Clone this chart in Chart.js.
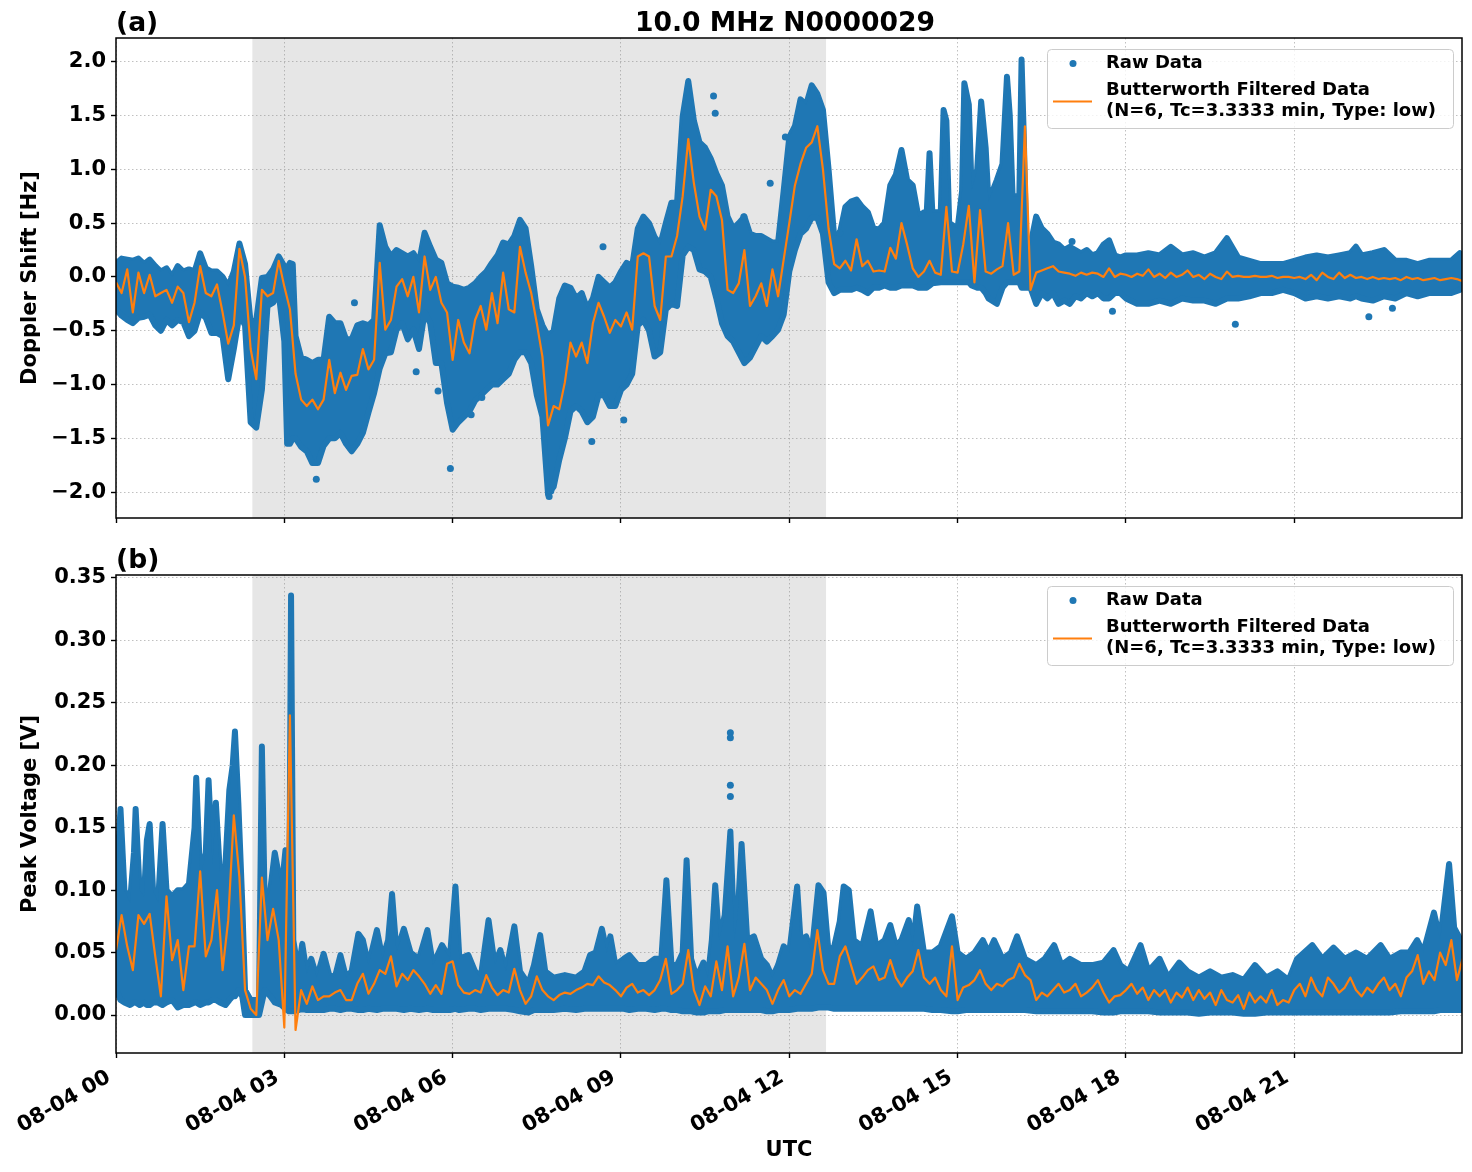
<!DOCTYPE html>
<html>
<head>
<meta charset="utf-8">
<script src="https://cdn.jsdelivr.net/npm/chart.js@4.4.1/dist/chart.umd.min.js"></script>
<style>
html,body{margin:0;padding:0;background:#fff;}
#wrap{position:relative;width:1472px;height:1172px;overflow:hidden;}
canvas{position:absolute;left:0;}
</style>
</head>
<body>
<div id="wrap">
<canvas id="cA" width="1472" height="545" style="top:0px;width:1472px;height:545px"></canvas>
<canvas id="cB" width="1472" height="627" style="top:545px;width:1472px;height:627px"></canvas>
</div>
<script>
// ---------------- text & categories ----------------
const mainTitle = '10.0 MHz N0000029';
const panelTags = ['(a)', '(b)'];
const yTitleA = 'Doppler Shift [Hz]';
const yTitleB = 'Peak Voltage [V]';
const xTitle = 'UTC';
const rawLabel = 'Raw Data';
const filtLabel = ['Butterworth Filtered Data', '(N=6, Tc=3.3333 min, Type: low)'];
const xTickHours = [0, 3, 6, 9, 12, 15, 18, 21];
const xTickLabels = ['08-04 00', '08-04 03', '08-04 06', '08-04 09', '08-04 12', '08-04 15', '08-04 18', '08-04 21'];
const shadeStart = 2.43;   // hours UTC
const shadeEnd = 12.655;   // hours UTC
const filtStep = 0.1;      // hours between filtered samples

// ---------------- panel (a): Doppler shift [Hz] ----------------
// raw data cloud: upper / lower extent of the dots at each time (hours)
const dopRawTime = [
  0,0.1,0.2,0.3,0.4,0.5,0.6,0.7,0.8,0.9,
  1.0,1.1,1.2,1.3,1.4,1.5,1.6,1.7,1.8,1.9,
  2.0,2.1,2.2,2.3,2.4,2.5,2.6,2.7,2.8,2.9,
  3.0,3.05,3.1,3.15,3.2,3.3,3.4,3.5,3.6,3.7,3.8,3.9,
  4.0,4.1,4.2,4.3,4.4,4.5,4.6,4.7,4.8,4.9,
  5.0,5.1,5.2,5.3,5.4,5.5,5.6,5.7,5.8,5.9,
  6.0,6.1,6.2,6.3,6.4,6.5,6.6,6.7,6.8,6.9,
  7.0,7.1,7.2,7.3,7.4,7.5,7.6,7.7,7.8,7.9,
  8.0,8.1,8.2,8.3,8.4,8.5,8.6,8.7,8.8,8.9,
  9.0,9.1,9.2,9.3,9.4,9.5,9.6,9.7,9.8,9.9,
  10.0,10.1,10.2,10.3,10.4,10.5,10.6,10.7,10.8,10.9,
  11.0,11.1,11.2,11.3,11.4,11.5,11.6,11.7,11.8,11.9,
  12.0,12.1,12.2,12.3,12.4,12.5,12.6,12.7,12.8,12.9,
  13.0,13.1,13.2,13.3,13.4,13.5,13.6,13.7,13.8,13.9,
  14.0,14.1,14.2,14.3,14.4,14.45,14.5,14.55,14.7,14.75,14.8,14.85,15.0,15.08,15.12,15.2,15.25,15.35,15.42,15.5,15.55,15.7,15.8,15.88,15.93,15.98,16.1,16.14,16.18,16.22,16.3,16.4,16.5,16.6,16.7,16.8,16.9,
  17.0,17.1,17.2,17.3,17.4,17.5,17.6,17.7,17.8,17.9,
  18.0,18.2,18.4,18.6,18.8,19.0,19.2,19.4,19.6,19.8,20.0,20.2,20.4,20.6,20.8,21.0,21.2,21.4,21.6,21.8,22.0,22.1,22.2,22.4,22.6,22.8,23.0,23.2,23.4,23.6,23.8,23.95,24.0
];
const dopRawHigh = [
  0.12,0.17,0.16,0.15,0.17,0.12,0.16,0.10,0.05,0.08,
  0.00,0.10,0.05,0.07,0.05,0.22,0.08,0.05,0.05,0.00,
  -0.09,0.05,0.31,0.12,-0.43,-0.40,-0.01,0.00,0.07,0.19,
  0.10,0.08,0.13,0.12,-0.55,-0.75,-0.77,-0.80,-0.77,-0.77,-0.37,-0.43,
  -0.43,-0.58,-0.58,-0.45,-0.43,-0.45,-0.40,0.48,0.28,0.19,
  0.25,0.22,0.19,0.22,0.13,0.41,0.28,0.16,0.13,-0.06,
  -0.09,-0.10,-0.12,-0.10,-0.06,0.00,0.05,0.13,0.20,0.32,
  0.30,0.38,0.53,0.45,0.10,-0.30,-0.45,-0.55,-0.50,-0.20,
  -0.08,-0.10,-0.20,-0.15,-0.30,-0.20,0.00,-0.05,-0.10,-0.05,
  0.05,0.13,0.10,0.45,0.56,0.50,0.37,0.30,0.50,0.69,
  0.69,1.49,1.82,1.45,1.25,1.20,1.10,0.96,0.85,0.56,
  0.45,0.50,0.56,0.40,0.38,0.38,0.35,0.32,0.32,0.80,
  1.30,1.40,1.65,1.60,1.78,1.70,1.55,1.00,0.38,0.40,
  0.65,0.70,0.72,0.65,0.60,0.45,0.44,0.50,0.85,0.95,
  1.18,0.90,0.85,0.56,0.60,0.60,1.15,0.60,0.60,1.55,1.45,0.50,0.45,0.80,1.80,1.60,0.80,1.00,1.63,1.20,0.70,0.90,1.05,1.86,1.50,0.75,0.75,2.02,1.30,0.35,0.30,0.56,0.45,0.40,0.32,0.30,0.25,
  0.28,0.25,0.22,0.25,0.20,0.22,0.30,0.34,0.20,0.18,
  0.20,0.20,0.22,0.20,0.28,0.20,0.22,0.18,0.22,0.36,0.18,0.15,0.12,0.12,0.12,0.15,0.18,0.20,0.18,0.20,0.22,0.28,0.20,0.22,0.25,0.15,0.15,0.12,0.15,0.15,0.15,0.22,0.10
];
const dopRawLow = [
  -0.30,-0.36,-0.40,-0.43,-0.38,-0.37,-0.35,-0.45,-0.50,-0.40,
  -0.45,-0.40,-0.42,-0.55,-0.50,-0.33,-0.38,-0.52,-0.52,-0.55,
  -0.95,-0.67,-0.35,-0.45,-1.35,-1.40,-1.05,-0.27,-0.24,-0.15,
  -0.60,-1.55,-1.55,-1.50,-1.50,-1.58,-1.62,-1.73,-1.73,-1.57,-1.50,-1.50,
  -1.45,-1.55,-1.62,-1.55,-1.45,-1.26,-1.08,-0.85,-0.71,-0.70,
  -0.49,-0.43,-0.58,-0.49,-0.67,-0.33,-0.43,-0.80,-0.80,-1.17,
  -1.42,-1.35,-1.30,-1.25,-1.15,-1.10,-1.05,-1.00,-1.00,-0.95,
  -0.90,-0.77,-0.70,-0.70,-0.80,-1.10,-1.30,-2.02,-1.95,-1.70,
  -1.50,-1.25,-1.20,-1.25,-1.35,-1.30,-1.10,-1.10,-1.20,-1.20,
  -1.05,-1.00,-0.90,-0.45,-0.40,-0.50,-0.74,-0.70,-0.30,-0.25,
  -0.27,0.20,0.28,0.25,0.07,0.05,0.00,-0.20,-0.43,-0.55,
  -0.60,-0.70,-0.80,-0.75,-0.65,-0.55,-0.60,-0.55,-0.49,-0.35,
  0.05,0.25,0.40,0.45,0.55,0.55,0.40,-0.05,-0.15,-0.12,
  -0.12,-0.12,-0.10,-0.12,-0.15,-0.10,-0.10,-0.08,-0.10,-0.10,
  -0.08,-0.08,-0.08,-0.10,-0.10,-0.10,-0.08,-0.06,-0.05,-0.05,-0.05,-0.05,-0.05,-0.05,-0.05,-0.05,-0.08,-0.10,-0.10,-0.15,-0.20,-0.25,-0.10,-0.05,-0.05,-0.05,-0.05,-0.10,-0.10,-0.10,-0.10,-0.25,-0.15,-0.20,-0.15,-0.25,-0.22,
  -0.25,-0.18,-0.20,-0.15,-0.18,-0.15,-0.20,-0.20,-0.15,-0.15,
  -0.20,-0.25,-0.25,-0.22,-0.25,-0.20,-0.22,-0.22,-0.25,-0.20,-0.20,-0.18,-0.15,-0.15,-0.12,-0.15,-0.20,-0.18,-0.20,-0.18,-0.20,-0.18,-0.20,-0.22,-0.18,-0.20,-0.15,-0.18,-0.15,-0.15,-0.15,-0.12,-0.10
];
// isolated raw dots away from the main cloud
const dopOutTime  = [3.57, 5.96, 4.25, 5.35, 5.74, 10.65, 10.68, 8.68, 9.05, 6.52, 6.33, 8.48, 11.19, 11.93, 11.66, 12.90, 17.76, 17.04, 19.95, 22.33, 22.75, 7.72, 7.75];
const dopOutValue = [-1.88, -1.78, -0.24, -0.88, -1.06, 1.68, 1.52, 0.28, -1.33, -1.12, -1.28, -1.53, 0.56, 1.30, 0.87, 0.41, -0.32, 0.33, -0.44, -0.37, -0.29, -2.04, -1.99];
// Butterworth filtered Doppler shift, one value every 0.1 h from 00:00 to 24:00
const dopFilt = [
  -0.05,-0.15,0.07,-0.33,0.04,-0.15,0.02,-0.18,-0.15,-0.12,
  -0.24,-0.09,-0.15,-0.42,-0.24,0.10,-0.15,-0.18,-0.07,-0.33,
  -0.62,-0.45,0.26,0.00,-0.67,-0.95,-0.12,-0.18,-0.15,0.15,
  -0.09,-0.30,-0.90,-1.14,-1.20,-1.14,-1.23,-1.14,-0.77,-1.08,
  -0.89,-1.05,-0.92,-0.91,-0.67,-0.86,-0.77,0.13,-0.49,-0.40,
  -0.09,-0.02,-0.18,0.00,-0.33,0.19,-0.12,0.00,-0.24,-0.33,
  -0.77,-0.40,-0.61,-0.71,-0.40,-0.27,-0.49,-0.15,-0.43,0.04,
  -0.30,-0.33,0.28,0.04,-0.15,-0.43,-0.74,-1.38,-1.20,-1.23,
  -0.98,-0.61,-0.74,-0.61,-0.80,-0.43,-0.24,-0.37,-0.52,-0.40,
  -0.46,-0.33,-0.49,0.19,0.22,0.19,-0.27,-0.40,0.19,0.19,
  0.38,0.75,1.28,0.87,0.56,0.44,0.81,0.75,0.53,-0.12,
  -0.15,-0.06,0.25,-0.27,-0.18,-0.06,-0.27,0.07,-0.18,0.16,
  0.50,0.85,1.05,1.20,1.25,1.40,1.00,0.45,0.12,0.08,
  0.15,0.06,0.35,0.10,0.15,0.05,0.06,0.05,0.27,0.17,
  0.50,0.30,0.08,0.00,0.05,0.15,0.04,0.02,0.65,0.05,
  0.04,0.30,0.66,-0.05,0.62,0.05,0.03,0.07,0.10,0.50,
  0.02,0.05,1.40,-0.12,0.04,0.06,0.08,0.10,0.05,0.04,
  0.03,0.01,0.04,0.02,0.04,0.03,0.00,0.08,0.00,0.03,
  0.02,0.00,0.03,0.01,0.07,0.00,0.03,-0.01,0.04,0.00,
  0.02,0.06,0.00,0.02,-0.02,0.03,0.00,-0.02,0.05,0.00,
  0.01,0.00,0.00,0.01,0.00,0.00,0.01,-0.01,0.00,0.00,
  -0.01,0.00,-0.02,0.02,-0.03,0.04,0.00,-0.02,0.04,-0.01,
  0.02,-0.01,0.00,-0.02,0.00,-0.02,-0.01,-0.02,-0.01,-0.03,
  0.00,-0.02,-0.01,-0.03,-0.02,-0.01,-0.03,-0.02,-0.01,-0.02,
  -0.04
];

// ---------------- panel (b): peak voltage [V] ----------------
const volRawTime = [
  0,0.05,0.08,0.15,0.25,0.32,0.35,0.42,0.5,0.55,0.6,0.66,0.75,0.83,0.9,
  1.0,1.1,1.2,1.3,1.4,1.43,1.5,1.6,1.65,1.72,1.78,1.85,1.95,
  2.02,2.08,2.12,2.18,2.25,2.3,2.4,2.55,2.6,2.65,2.75,2.83,2.95,
  3.02,3.08,3.12,3.16,3.25,3.32,3.4,3.48,3.58,3.7,3.8,3.9,
  4.0,4.1,4.2,4.32,4.4,4.5,4.65,4.75,4.85,4.92,
  5.0,5.13,5.25,5.4,5.55,5.65,5.81,5.95,
  6.05,6.12,6.28,6.4,6.5,6.64,6.75,6.85,6.95,
  7.1,7.2,7.35,7.45,7.56,7.65,7.8,
  8.0,8.2,8.35,8.45,8.55,8.66,8.75,8.81,8.9,
  9.05,9.15,9.3,9.45,9.6,9.72,9.81,9.9,
  10.0,10.1,10.17,10.25,10.35,10.47,10.55,10.62,10.68,10.75,10.85,10.95,
  11.02,11.08,11.15,11.25,11.37,11.5,11.6,11.7,11.8,11.9,
  12.0,12.14,12.2,12.3,12.4,12.52,12.61,12.7,12.8,12.9,12.97,
  13.06,13.15,13.3,13.45,13.55,13.7,13.8,13.9,
  14.0,14.13,14.2,14.28,14.4,14.55,14.7,14.9,
  15.0,15.15,15.3,15.45,15.55,15.65,15.8,15.95,
  16.06,16.2,16.4,16.55,16.72,16.85,
  17.0,17.2,17.4,17.6,17.78,17.9,
  18.05,18.26,18.4,18.6,18.75,18.95,
  19.1,19.3,19.5,19.7,19.9,
  20.1,20.3,20.5,20.7,20.9,
  21.05,21.32,21.5,21.7,21.9,
  22.1,22.3,22.54,22.7,22.9,
  23.05,23.19,23.3,23.49,23.6,23.76,23.85,23.97,24.0
];
const volRawHigh = [
  0.090,0.140,0.165,0.100,0.090,0.130,0.165,0.100,0.095,0.140,0.153,0.100,0.090,0.153,0.100,
  0.095,0.100,0.100,0.105,0.150,0.190,0.110,0.130,0.188,0.120,0.170,0.115,0.120,
  0.180,0.200,0.227,0.170,0.090,0.020,0.012,0.012,0.215,0.090,0.100,0.130,0.100,
  0.132,0.020,0.336,0.060,0.035,0.057,0.033,0.045,0.030,0.049,0.032,0.030,
  0.048,0.030,0.035,0.065,0.060,0.040,0.068,0.045,0.060,0.097,
  0.050,0.069,0.050,0.045,0.068,0.040,0.056,0.045,
  0.103,0.045,0.048,0.035,0.030,0.076,0.040,0.052,0.035,
  0.071,0.035,0.025,0.040,0.064,0.035,0.030,
  0.032,0.030,0.035,0.048,0.050,0.069,0.050,0.063,0.040,
  0.045,0.048,0.040,0.040,0.045,0.045,0.108,0.040,
  0.040,0.050,0.124,0.045,0.030,0.042,0.030,0.060,0.104,0.060,0.080,0.147,
  0.060,0.080,0.137,0.060,0.063,0.045,0.040,0.030,0.040,0.055,
  0.050,0.103,0.060,0.063,0.050,0.104,0.098,0.050,0.055,0.075,0.103,
  0.100,0.060,0.055,0.083,0.055,0.060,0.072,0.055,
  0.060,0.076,0.055,0.087,0.050,0.050,0.055,0.079,
  0.050,0.045,0.050,0.060,0.050,0.060,0.045,0.050,
  0.063,0.045,0.040,0.045,0.056,0.040,
  0.045,0.040,0.040,0.042,0.052,0.040,
  0.035,0.056,0.035,0.045,0.030,0.042,
  0.035,0.030,0.035,0.030,0.032,
  0.028,0.040,0.030,0.035,0.028,
  0.045,0.056,0.045,0.054,0.045,
  0.050,0.045,0.056,0.045,0.050,
  0.050,0.060,0.050,0.082,0.060,0.121,0.070,0.060,0.050
];
const volRawLow = [
  0.022,0.015,0.012,0.010,0.008,0.010,0.010,0.008,0.010,0.008,0.008,0.010,0.010,0.008,0.010,
  0.012,0.006,0.008,0.008,0.010,0.010,0.008,0.010,0.010,0.012,0.012,0.010,0.008,
  0.012,0.015,0.015,0.020,0.015,0.000,0.000,0.000,0.010,0.020,0.015,0.010,0.008,
  0.005,0.003,0.003,0.003,0.004,0.005,0.004,0.004,0.004,0.004,0.005,0.005,
  0.004,0.005,0.005,0.004,0.004,0.005,0.004,0.005,0.005,0.005,
  0.005,0.004,0.005,0.004,0.005,0.004,0.004,0.004,
  0.005,0.004,0.005,0.005,0.004,0.005,0.005,0.005,0.005,
  0.004,0.003,0.002,0.004,0.004,0.004,0.004,
  0.005,0.004,0.005,0.005,0.005,0.005,0.005,0.005,0.005,
  0.005,0.004,0.005,0.005,0.004,0.005,0.005,0.004,
  0.004,0.003,0.003,0.003,0.002,0.002,0.003,0.003,0.003,0.003,0.004,0.004,
  0.004,0.004,0.004,0.004,0.004,0.004,0.003,0.003,0.004,0.004,
  0.004,0.005,0.005,0.005,0.005,0.006,0.006,0.006,0.005,0.005,0.005,
  0.005,0.005,0.005,0.005,0.005,0.005,0.005,0.005,
  0.005,0.005,0.005,0.005,0.005,0.004,0.004,0.003,
  0.003,0.004,0.004,0.004,0.004,0.004,0.004,0.004,
  0.004,0.004,0.003,0.003,0.003,0.003,
  0.003,0.003,0.003,0.002,0.002,0.003,
  0.003,0.003,0.003,0.002,0.002,0.002,
  0.002,0.001,0.002,0.002,0.002,
  0.001,0.001,0.002,0.002,0.002,
  0.002,0.002,0.002,0.002,0.002,
  0.002,0.002,0.002,0.002,0.003,
  0.003,0.003,0.003,0.003,0.004,0.004,0.004,0.004,0.004
];
const volOutTime  = [10.95, 10.95, 10.95, 10.95];
const volOutValue = [0.226, 0.222, 0.184, 0.175];
// Butterworth filtered peak voltage, one value every 0.1 h from 00:00 to 24:00
const volFilt = [
  0.052,0.080,0.055,0.036,0.080,0.073,0.081,0.047,0.015,0.095,
  0.044,0.060,0.020,0.055,0.055,0.115,0.047,0.060,0.100,0.036,
  0.076,0.160,0.110,0.020,0.005,0.000,0.110,0.060,0.085,0.060,
  -0.010,0.240,-0.012,0.020,0.009,0.023,0.012,0.015,0.015,0.018,
  0.020,0.012,0.012,0.025,0.033,0.017,0.025,0.036,0.033,0.047,
  0.023,0.033,0.028,0.036,0.031,0.025,0.017,0.024,0.017,0.041,
  0.043,0.024,0.018,0.017,0.020,0.018,0.032,0.022,0.016,0.020,
  0.018,0.037,0.020,0.009,0.015,0.031,0.020,0.015,0.012,0.016,
  0.018,0.017,0.020,0.022,0.025,0.024,0.031,0.026,0.024,0.020,
  0.015,0.022,0.025,0.018,0.020,0.016,0.020,0.028,0.045,0.017,
  0.020,0.025,0.052,0.020,0.008,0.023,0.015,0.043,0.020,0.055,
  0.015,0.030,0.057,0.020,0.030,0.025,0.020,0.009,0.020,0.028,
  0.015,0.020,0.017,0.025,0.033,0.068,0.036,0.025,0.025,0.047,
  0.055,0.040,0.025,0.030,0.036,0.039,0.028,0.030,0.044,0.030,
  0.023,0.030,0.035,0.052,0.030,0.025,0.030,0.020,0.015,0.055,
  0.012,0.022,0.024,0.028,0.036,0.025,0.020,0.025,0.023,0.028,
  0.030,0.041,0.032,0.028,0.012,0.018,0.015,0.020,0.025,0.018,
  0.020,0.025,0.015,0.018,0.022,0.028,0.018,0.010,0.015,0.016,
  0.020,0.025,0.017,0.022,0.012,0.020,0.015,0.020,0.010,0.018,
  0.014,0.022,0.012,0.020,0.013,0.018,0.008,0.020,0.012,0.010,
  0.016,0.005,0.018,0.010,0.015,0.010,0.020,0.008,0.012,0.010,
  0.020,0.025,0.015,0.030,0.020,0.015,0.030,0.025,0.018,0.022,
  0.030,0.020,0.015,0.022,0.018,0.025,0.030,0.020,0.025,0.015,
  0.030,0.035,0.048,0.025,0.035,0.028,0.050,0.040,0.060,0.028,
  0.045
];

// ---------------- sanity check ----------------
[[dopRawTime, dopRawHigh, dopRawLow, 'dop raw'], [volRawTime, volRawHigh, volRawLow, 'vol raw']].forEach(([t, h, l, n]) => {
  if (t.length !== h.length || t.length !== l.length) throw new Error(n + ' length mismatch ' + t.length + ' ' + h.length + ' ' + l.length);
});
if (dopFilt.length !== 241 || volFilt.length !== 241) throw new Error('filt length ' + dopFilt.length + ' ' + volFilt.length);

// ---------------- styling ----------------
const FONT = "'DejaVu Sans', 'Liberation Sans', sans-serif";
const RAW_COLOR = '#1f77b4';
const FILT_COLOR = '#ff7f0e';

function fmtSigned(v, d) {
  const s = Math.abs(v).toFixed(d);
  return (v < -1e-9 ? '\u2212' : '') + s;
}

function panelPlugin(tag, showMainTitle) {
  return {
    id: 'panelDecor',
    beforeDatasetsDraw(chart) {
      const {ctx, chartArea: a, scales: {x}} = chart;
      const x0 = x.getPixelForValue(shadeStart), x1 = x.getPixelForValue(shadeEnd);
      ctx.save();
      ctx.fillStyle = 'rgba(128,128,128,0.2)';
      ctx.fillRect(x0, a.top, x1 - x0, a.bottom - a.top);
      ctx.restore();
    },
    afterDraw(chart) {
      const {ctx, chartArea: a} = chart;
      ctx.save();
      // frame
      ctx.strokeStyle = '#000';
      ctx.lineWidth = 1.5;
      ctx.strokeRect(a.left, a.top, a.right - a.left, a.bottom - a.top);
      // titles
      ctx.fillStyle = '#000';
      ctx.font = 'bold 26.6px ' + FONT;
      ctx.textBaseline = 'alphabetic';
      ctx.textAlign = 'left';
      ctx.fillText(tag, a.left, a.top - 7);
      if (showMainTitle) {
        ctx.textAlign = 'center';
        ctx.fillText(mainTitle, (a.left + a.right) / 2 - 4, a.top - 7);
      }
      // legend
      const bx = a.right - 415, by = a.top + 11, bw = 406, bh = 79;
      ctx.beginPath();
      ctx.roundRect(bx + 0.5, by + 0.5, bw, bh, 4);
      ctx.fillStyle = 'rgba(255,255,255,0.8)';
      ctx.fill();
      ctx.strokeStyle = '#cccccc';
      ctx.lineWidth = 1;
      ctx.stroke();
      ctx.fillStyle = RAW_COLOR;
      ctx.beginPath();
      ctx.arc(a.right - 389, a.top + 25.5, 3.5, 0, Math.PI * 2);
      ctx.fill();
      ctx.strokeStyle = FILT_COLOR;
      ctx.lineWidth = 2.2;
      ctx.beginPath();
      ctx.moveTo(a.right - 409, a.top + 63.5);
      ctx.lineTo(a.right - 370, a.top + 63.5);
      ctx.stroke();
      ctx.fillStyle = '#000';
      ctx.font = 'bold 18px ' + FONT;
      ctx.textAlign = 'left';
      ctx.textBaseline = 'middle';
      ctx.fillText(rawLabel, a.right - 356, a.top + 25.5);
      ctx.fillText(filtLabel[0], a.right - 356, a.top + 52.5);
      ctx.fillText(filtLabel[1], a.right - 356, a.top + 73.5);
      ctx.restore();
    }
  };
}

function makePanel(canvasId, p) {
  const envHi = p.envT.map((t, i) => ({x: t, y: p.envHi[i]}));
  const envLo = p.envT.map((t, i) => ({x: t, y: p.envLo[i]}));
  const outs = p.outT.map((t, i) => ({x: t, y: p.outV[i]}));
  const filt = p.filt.map((v, i) => ({x: +(i * filtStep).toFixed(2), y: v}));
  const tickFont = {family: FONT, size: 21, weight: 'bold'};
  return new Chart(document.getElementById(canvasId), {
    type: 'line',
    data: {
      datasets: [
        {label: rawLabel, data: envHi, borderColor: RAW_COLOR, backgroundColor: RAW_COLOR, borderWidth: 6,
         pointRadius: 0, fill: false, tension: 0, order: 3, clip: 0, borderJoinStyle: 'round', borderCapStyle: 'round'},
        {label: rawLabel + ' (lower edge)', data: envLo, borderColor: RAW_COLOR, backgroundColor: RAW_COLOR, borderWidth: 6,
         pointRadius: 0, fill: '-1', tension: 0, order: 2, clip: 0, borderJoinStyle: 'round', borderCapStyle: 'round'},
        {type: 'scatter', label: rawLabel + ' (isolated)', data: outs, backgroundColor: RAW_COLOR, borderColor: RAW_COLOR,
         pointRadius: 3.5, borderWidth: 0, order: 1, clip: 0, showLine: false},
        {label: filtLabel.join(' '), data: filt, borderColor: FILT_COLOR, borderWidth: 2.2, pointRadius: 0,
         fill: false, tension: 0, order: 0, clip: 0, borderJoinStyle: 'round'}
      ]
    },
    options: {
      responsive: false,
      animation: false,
      events: [],
      layout: {padding: {top: p.padTop, right: 10, bottom: 0, left: 0}},
      plugins: {legend: {display: false}, tooltip: {enabled: false}, title: {display: false}},
      scales: {
        x: {
          type: 'linear', min: 0, max: 23.99,
          afterFit: s => { s.height = p.xHeight; },
          ticks: {
            display: p.showXLabels, stepSize: 3, includeBounds: false, autoSkip: false,
            minRotation: 30, maxRotation: 30, padding: 7, labelOffset: -7, color: '#000', font: tickFont,
            callback: v => { const i = xTickHours.indexOf(v); return i >= 0 ? xTickLabels[i] : ''; }
          },
          grid: {color: '#b0b0b0', lineWidth: 0.8, tickColor: '#000', tickLength: 5, tickWidth: 1.4, borderDash: [1.5, 2.5]},
          border: {display: false, dash: [1.5, 2.5]},
          title: {display: p.showXLabels, text: xTitle, color: '#000', font: tickFont, padding: {top: 0, bottom: 9}}
        },
        y: {
          min: p.yMin, max: p.yMax,
          afterFit: s => { s.width = 116; },
          ticks: {
            stepSize: p.yStep, includeBounds: false, padding: 5, color: '#000', font: tickFont,
            callback: v => fmtSigned(v, p.decimals)
          },
          grid: {color: '#b0b0b0', lineWidth: 0.8, tickColor: '#000', tickLength: 5, tickWidth: 1.4, borderDash: [1.5, 2.5]},
          border: {display: false, dash: [1.5, 2.5]},
          title: {display: true, text: p.yTitle, color: '#000', font: tickFont, padding: {top: 18, bottom: 0}}
        }
      }
    },
    plugins: [panelPlugin(p.tag, p.showMainTitle)]
  });
}

makePanel('cA', {
  envT: dopRawTime, envHi: dopRawHigh, envLo: dopRawLow, outT: dopOutTime, outV: dopOutValue, filt: dopFilt,
  yMin: -2.24, yMax: 2.22, yStep: 0.5, decimals: 1, yTitle: yTitleA, tag: panelTags[0], showMainTitle: true,
  showXLabels: false, padTop: 38, xHeight: 27
});
makePanel('cB', {
  envT: volRawTime, envHi: volRawHigh, envLo: volRawLow, outT: volOutTime, outV: volOutValue, filt: volFilt,
  yMin: -0.0304, yMax: 0.3524, yStep: 0.05, decimals: 2, yTitle: yTitleB, tag: panelTags[1], showMainTitle: false,
  showXLabels: true, padTop: 30, xHeight: 119
});
</script>
</body>
</html>
